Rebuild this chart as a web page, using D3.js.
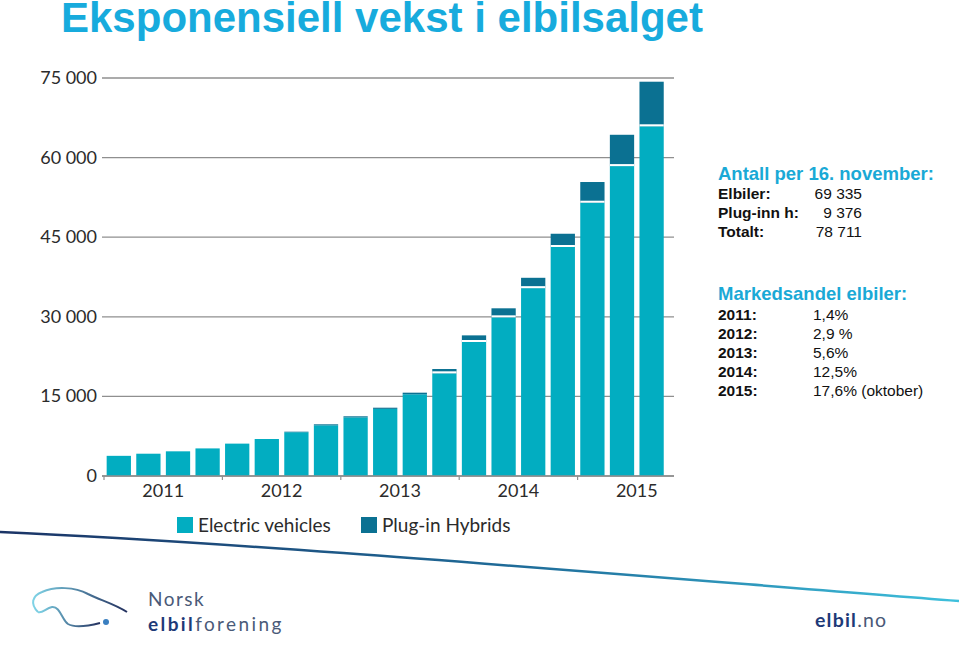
<!DOCTYPE html>
<html>
<head>
<meta charset="utf-8">
<script src="https://cdn.jsdelivr.net/npm/d3@7"></script>
<style>
  html, body { margin: 0; padding: 0; background: #fff; }
  svg { display: block; }
</style>
</head>
<body>
<svg id="chart" width="959" height="645"></svg>
<script>
// ---- Data ----
const quarters = ["2011 K1","2011 K2","2011 K3","2011 K4",
                  "2012 K1","2012 K2","2012 K3","2012 K4",
                  "2013 K1","2013 K2","2013 K3","2013 K4",
                  "2014 K1","2014 K2","2014 K3","2014 K4",
                  "2015 K1","2015 K2","2015 K3"];
const electricVehicles = [3800, 4200, 4650, 5200, 6100, 6970, 8250, 9550, 11050, 12650,
                          15400, 19350, 25250, 29900, 35400, 43150, 51500, 58400, 65900];
const pluginHybrids    = [0, 0, 0, 0, 0, 0, 100, 190, 200, 220,
                          300, 810, 1250, 1700, 1950, 2500, 3900, 5900, 8400];
const years = ["2011", "2012", "2013", "2014", "2015"];
const yTicks = [0, 15000, 30000, 45000, 60000, 75000];
const seriesNames = ["Electric vehicles", "Plug-in Hybrids"];

const antallRows = [["Elbiler:", "69 335"], ["Plug-inn h:", "9 376"], ["Totalt:", "78 711"]];
const andelRows = [["2011:", "1,4%"], ["2012:", "2,9 %"], ["2013:", "5,6%"], ["2014:", "12,5%"], ["2015:", "17,6% (oktober)"]];

// ---- Style ----
const cEV = "#02adc1", cPH = "#0b7192";
const svg = d3.select("#chart");

// Title
svg.append("text").attr("x", 61).attr("y", 32)
  .attr("font-family", "Liberation Sans, Arial, sans-serif").attr("font-weight", "bold")
  .attr("font-size", 42).attr("fill", "#17abdd")
  .text("Eksponensiell vekst i elbilsalget");

// Scales
const x = d3.scaleBand().domain(quarters).range([104, 666.4]).paddingInner(0.18).paddingOuter(0.09);
const y = d3.scaleLinear().domain([0, 75000]).range([476, 78]);
const plotLeft = 102, plotRight = 674;

// Grid lines
svg.append("g").selectAll("line").data(yTicks).join("line")
  .attr("x1", plotLeft).attr("x2", plotRight)
  .attr("y1", d => y(d)).attr("y2", d => y(d))
  .attr("stroke", "#8f8f8f").attr("stroke-width", 1.3);

// Y axis labels
const fmt = d => d3.format(",")(d).replace(/,/g, " ");
svg.append("g").selectAll("text").data(yTicks).join("text")
  .attr("x", 97).attr("y", d => y(d) + 6)
  .attr("text-anchor", "end")
  .attr("font-family", "Lato, sans-serif").attr("font-size", 18).attr("fill", "#2b2b2b")
  .text(fmt);

// Bars
const step = x.step();
const bars = svg.append("g");
bars.selectAll("rect.ev").data(quarters).join("rect").attr("class", "ev")
  .attr("x", d => x(d)).attr("width", x.bandwidth())
  .attr("y", (d, i) => y(electricVehicles[i]))
  .attr("height", (d, i) => y(0) - y(electricVehicles[i]))
  .attr("fill", cEV);
bars.selectAll("rect.ph").data(quarters).join("rect").attr("class", "ph")
  .attr("x", d => x(d)).attr("width", x.bandwidth())
  .attr("y", (d, i) => y(electricVehicles[i] + pluginHybrids[i]))
  .attr("height", (d, i) => y(electricVehicles[i]) - y(electricVehicles[i] + pluginHybrids[i]))
  .attr("fill", cPH);
// white separator between segments
bars.selectAll("line.sep").data(quarters.filter((d, i) => pluginHybrids[i] > 500)).join("line")
  .attr("class", "sep")
  .attr("x1", d => x(d)).attr("x2", d => x(d) + x.bandwidth())
  .attr("y1", d => y(electricVehicles[quarters.indexOf(d)]) - 1)
  .attr("y2", d => y(electricVehicles[quarters.indexOf(d)]) - 1)
  .attr("stroke", "#fff").attr("stroke-width", 2);

// X axis baseline + year ticks
svg.append("line").attr("x1", plotLeft).attr("x2", plotRight)
  .attr("y1", y(0)).attr("y2", y(0)).attr("stroke", "#8f8f8f").attr("stroke-width", 1.3);
const yearStart = yr => x(yr + " K1") - step * x.paddingInner() / 2;
svg.append("g").selectAll("line").data(years).join("line")
  .attr("x1", d => yearStart(d)).attr("x2", d => yearStart(d))
  .attr("y1", y(0)).attr("y2", y(0) + 4)
  .attr("stroke", "#8f8f8f").attr("stroke-width", 1.2);
svg.append("g").selectAll("text").data(years).join("text")
  .attr("x", d => yearStart(d) + 2 * step).attr("y", 497)
  .attr("text-anchor", "middle")
  .attr("font-family", "Lato, sans-serif").attr("font-size", 18).attr("fill", "#2b2b2b")
  .text(d => d);

// Legend
const leg = svg.append("g");
const legX = [177, 361];
const legC = [cEV, cPH];
seriesNames.forEach((n, i) => {
  leg.append("rect").attr("x", legX[i]).attr("y", 517).attr("width", 16).attr("height", 16).attr("fill", legC[i]);
  leg.append("text").attr("x", legX[i] + 21).attr("y", 532)
    .attr("font-family", "Lato, sans-serif").attr("font-size", 19).attr("fill", "#2b2b2b").text(n);
});

// Right-side text
const tg = svg.append("g").attr("font-family", "Liberation Sans, Arial, sans-serif");
tg.append("text").attr("x", 718).attr("y", 180).attr("font-size", 18.5).attr("font-weight", "bold")
  .attr("fill", "#1aa9d6").text("Antall per 16. november:");
antallRows.forEach((r, i) => {
  tg.append("text").attr("x", 718).attr("y", 199 + i * 19).attr("font-size", 15.5).attr("font-weight", "bold").attr("fill", "#111").text(r[0]);
  tg.append("text").attr("x", 862).attr("y", 199 + i * 19).attr("font-size", 15.5).attr("text-anchor", "end").attr("fill", "#111").text(r[1]);
});
tg.append("text").attr("x", 718).attr("y", 300).attr("font-size", 18.5).attr("font-weight", "bold")
  .attr("fill", "#1aa9d6").text("Markedsandel elbiler:");
andelRows.forEach((r, i) => {
  tg.append("text").attr("x", 718).attr("y", 319.5 + i * 19.2).attr("font-size", 15.5).attr("font-weight", "bold").attr("fill", "#111").text(r[0]);
  tg.append("text").attr("x", 813).attr("y", 319.5 + i * 19.2).attr("font-size", 15.5).attr("fill", "#111").text(r[1]);
});

// Decorative line
const defs = svg.append("defs");
const gr = defs.append("linearGradient").attr("id", "lg").attr("x1", "0%").attr("x2", "100%");
gr.append("stop").attr("offset", "0%").attr("stop-color", "#1b3466");
gr.append("stop").attr("offset", "55%").attr("stop-color", "#1f6d9a");
gr.append("stop").attr("offset", "100%").attr("stop-color", "#3ec0dc");
svg.append("path").attr("d", "M0,532 C250,543 600,573 959,601")
  .attr("stroke", "url(#lg)").attr("stroke-width", 2.5).attr("fill", "none");

// Logo (car outline)
const gr2 = defs.append("linearGradient").attr("id", "lg2").attr("x1", "0%").attr("x2", "100%");
gr2.append("stop").attr("offset", "0%").attr("stop-color", "#7fd3e6");
gr2.append("stop").attr("offset", "100%").attr("stop-color", "#23305e");
svg.append("path")
  .attr("d", "M38,612 C30,604 32,596 42,592 C55,586 75,587 88,594 C100,600 115,604 127,612")
  .attr("stroke", "url(#lg2)").attr("stroke-width", 2).attr("fill", "none");
svg.append("path")
  .attr("d", "M38,612 C42,614 46,608 52,607 C60,606 62,620 68,624 C75,628 88,626 100,623")
  .attr("stroke", "url(#lg2)").attr("stroke-width", 2).attr("fill", "none");
svg.append("circle").attr("cx", 106).attr("cy", 622).attr("r", 3).attr("fill", "#3a7fc0");
svg.append("text").attr("x", 148).attr("y", 606).attr("font-family", "Lato, sans-serif")
  .attr("font-size", 19).attr("letter-spacing", 1.5).attr("fill", "#4a5a78").text("Norsk");
const t2 = svg.append("text").attr("x", 148).attr("y", 631).attr("font-family", "Lato, sans-serif")
  .attr("font-size", 19).attr("letter-spacing", 2.4).attr("fill", "#4a5a78");
t2.append("tspan").attr("font-weight", "bold").attr("fill", "#1e3a78").text("elbil");
t2.append("tspan").text("forening");
const t3 = svg.append("text").attr("x", 815).attr("y", 627).attr("font-family", "Lato, sans-serif")
  .attr("font-size", 19.5).attr("letter-spacing", 1.2).attr("fill", "#1e3a78");
t3.append("tspan").attr("font-weight", "bold").text("elbil");
t3.append("tspan").attr("fill", "#4a5a78").text(".no");
</script>
</body>
</html>
